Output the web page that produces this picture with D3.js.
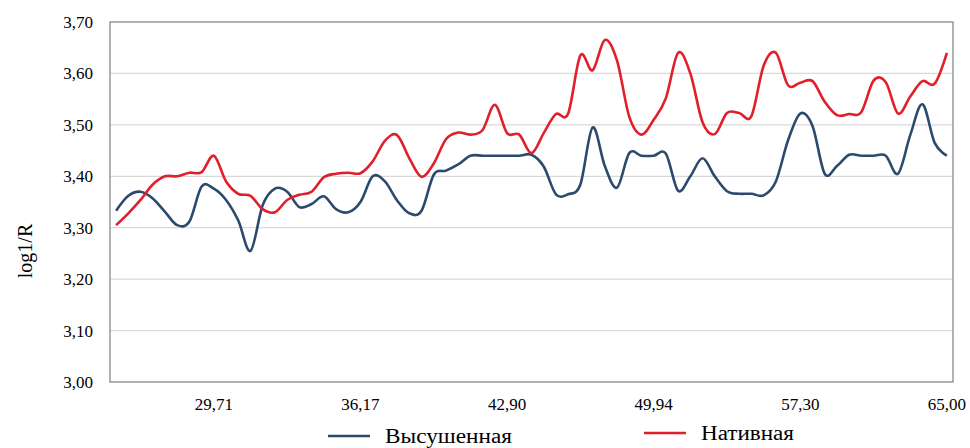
<!DOCTYPE html>
<html>
<head>
<meta charset="utf-8">
<script src="https://cdn.jsdelivr.net/npm/d3@7"></script>
<style>
  body { margin: 0; background: #fff; }
  text { font-family: "Liberation Serif", "Times New Roman", serif; fill: #000; }
</style>
</head>
<body>
<svg id="chart"></svg>
<script>
const width = 970, height = 448

// log1/R, one value per category (69 categories)
const dried = [3.333, 3.362, 3.370, 3.357, 3.331, 3.305, 3.312, 3.380, 3.376, 3.354,
  3.314, 3.255, 3.344, 3.376, 3.370, 3.340, 3.346, 3.361, 3.336, 3.330,
  3.350, 3.400, 3.390, 3.353, 3.328, 3.333, 3.403, 3.411, 3.423, 3.440,
  3.440, 3.440, 3.440, 3.440, 3.442, 3.419, 3.365, 3.365, 3.384, 3.495,
  3.420, 3.378, 3.445, 3.440, 3.440, 3.444, 3.372, 3.400, 3.435, 3.400,
  3.371, 3.366, 3.366, 3.363, 3.390, 3.470, 3.522, 3.498, 3.405, 3.420,
  3.442, 3.440, 3.440, 3.440, 3.405, 3.480, 3.540, 3.465, 3.440]

const native = [3.305, 3.328, 3.354, 3.384, 3.400, 3.400, 3.407, 3.408, 3.440, 3.390,
  3.366, 3.362, 3.336, 3.330, 3.354, 3.364, 3.370, 3.398, 3.405, 3.407,
  3.406, 3.429, 3.469, 3.480, 3.435, 3.399, 3.425, 3.472, 3.485, 3.481,
  3.490, 3.539, 3.484, 3.481, 3.445, 3.484, 3.521, 3.522, 3.635, 3.606,
  3.665, 3.625, 3.516, 3.481, 3.510, 3.552, 3.640, 3.600, 3.505, 3.482,
  3.523, 3.523, 3.517, 3.615, 3.640, 3.577, 3.582, 3.585, 3.545, 3.519,
  3.521, 3.525, 3.586, 3.583, 3.522, 3.555, 3.585, 3.580, 3.640]

const xTickIndex = [8, 20, 32, 44, 56, 68]
const xTickLabels = ['29,71', '36,17', '42,90', '49,94', '57,30', '65,00']
const yTicks = [3.0, 3.1, 3.2, 3.3, 3.4, 3.5, 3.6, 3.7]

const seriesNames = ['Высушенная', 'Нативная']
const seriesColors = ['#2c4a6e', '#e11f2b']

const margin = { top: 22, right: 17, bottom: 66, left: 110 }

const svg = d3.select('svg#chart')
  .attr('width', width)
  .attr('height', height)

// scales work in page coordinates, so no group transforms are needed
const xScale = d3.scalePoint()
  .domain(d3.range(dried.length))
  .range([margin.left, width - margin.right])
  .padding(0.5)

const yScale = d3.scaleLinear()
  .domain([3.0, 3.7])
  .range([height - margin.bottom, margin.top])

const comma = d => d3.format('.2f')(d).replace('.', ',')

// gridlines
svg.append('g')
  .selectAll('line').data(yTicks.slice(1, -1))
  .enter().append('line')
    .attr('x1', margin.left).attr('x2', width - margin.right)
    .attr('y1', d => yScale(d)).attr('y2', d => yScale(d))
    .attr('stroke', '#d9d9d9')
    .attr('stroke-width', 1.3)

// frame
svg.append('rect')
  .attr('x', margin.left)
  .attr('y', margin.top)
  .attr('width', width - margin.left - margin.right)
  .attr('height', height - margin.top - margin.bottom)
  .attr('fill', 'none')
  .attr('stroke', '#7f7f7f')
  .attr('stroke-width', 1.2)

// y tick labels
svg.append('g')
  .selectAll('text').data(yTicks)
  .enter().append('text')
    .attr('x', margin.left - 17)
    .attr('y', d => yScale(d))
    .attr('dy', '0.35em')
    .attr('text-anchor', 'end')
    .attr('font-size', 17)
    .text(comma)

// x tick labels
svg.append('g')
  .selectAll('text').data(xTickIndex)
  .enter().append('text')
    .attr('x', d => xScale(d))
    .attr('y', height - margin.bottom + 16)
    .attr('dy', '0.71em')
    .attr('text-anchor', 'middle')
    .attr('font-size', 17)
    .text((d, i) => xTickLabels[i])

svg.append('text')
  .attr('x', 25)
  .attr('y', 251)
  .attr('transform', 'rotate(-90, 25, 251)')
  .attr('text-anchor', 'middle')
  .attr('dy', '0.35em')
  .attr('font-size', 20)
  .text('log1/R')

const line = d3.line()
  .x((d, i) => xScale(i))
  .y(d => yScale(d))
  .curve(d3.curveCatmullRom.alpha(0))

;[dried, native].forEach((values, i) => {
  svg.append('path')
    .datum(values)
    .attr('fill', 'none')
    .attr('stroke', seriesColors[i])
    .attr('stroke-width', 2.6)
    .attr('stroke-linejoin', 'round')
    .attr('d', line)
})

// legend
const legendX = [328, 644]
const legendY = [436, 433]
const legendW = [127, 93]
const legend = svg.append('g')
seriesNames.forEach((name, i) => {
  legend.append('line')
    .attr('x1', legendX[i]).attr('x2', legendX[i] + 42)
    .attr('y1', legendY[i]).attr('y2', legendY[i])
    .attr('stroke', seriesColors[i])
    .attr('stroke-width', 2.6)
  legend.append('text')
    .attr('x', legendX[i] + 57)
    .attr('y', legendY[i])
    .attr('dy', '0.35em')
    .attr('font-size', 20)
    .attr('textLength', legendW[i])
    .attr('lengthAdjust', 'spacingAndGlyphs')
    .text(name)
})
</script>
</body>
</html>
